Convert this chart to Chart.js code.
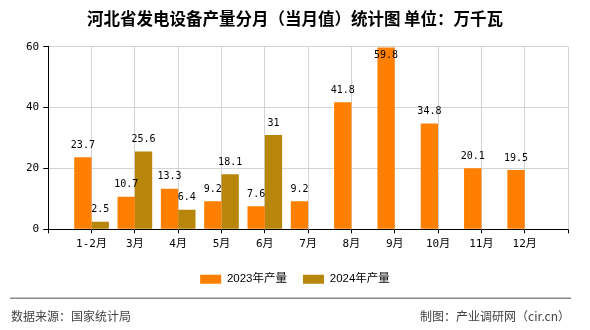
<!DOCTYPE html>
<html>
<head>
<meta charset="utf-8">
<script src="https://cdn.jsdelivr.net/npm/chart.js@4/dist/chart.umd.min.js"></script>
<style>
html,body{margin:0;padding:0;background:#fff;}
#wrap{width:590px;height:330px;position:relative;}
</style>
</head>
<body>
<div id="wrap"><canvas id="c" width="590" height="330"></canvas></div>
<script>
const titleText = '河北省发电设备产量分月（当月值）统计图 单位：万千瓦';
const categories = ['1-2月','3月','4月','5月','6月','7月','8月','9月','10月','11月','12月'];
const series2023 = [23.7, 10.7, 13.3, 9.2, 7.6, 9.2, 41.8, 59.8, 34.8, 20.1, 19.5];
const series2024 = [2.5, 25.6, 6.4, 18.1, 31, null, null, null, null, null, null];
const seriesNames = ['2023年产量', '2024年产量'];
const yTicks = [0, 20, 40, 60];
const sourceText = '数据来源：国家统计局';
const creditText = '制图：产业调研网（cir.cn）';

const labels = [''].concat(categories, ['']);
const pad = arr => [null].concat(arr, [null]);

const monoFont = "'DejaVu Sans Mono', 'Noto Sans CJK SC', monospace";

const vGrid = {
  id: 'vGrid',
  beforeDatasetsDraw(chart) {
    const ctx = chart.ctx;
    const area = chart.chartArea;
    const xs = chart.scales.x;
    ctx.save();
    ctx.strokeStyle = '#d3d3d3';
    ctx.lineWidth = 1;
    ctx.beginPath();
    for (let i = 1; i < xs.ticks.length; i++) {
      const x = Math.round(xs.getPixelForTick(i) - 0.5) + 0.5;
      ctx.moveTo(x, area.top);
      ctx.lineTo(x, area.bottom);
    }
    ctx.stroke();
    ctx.restore();
  }
};

const valueLabels = {
  id: 'valueLabels',
  afterDatasetsDraw(chart) {
    const ctx = chart.ctx;
    const area = chart.chartArea;
    ctx.save();
    ctx.font = "10px " + monoFont;
    ctx.fillStyle = '#000';
    ctx.textAlign = 'center';
    ctx.textBaseline = 'middle';
    chart.data.datasets.forEach((ds, i) => {
      const meta = chart.getDatasetMeta(i);
      meta.data.forEach((el, j) => {
        const v = ds.data[j];
        if (v === null || v === undefined) return;
        let y = el.y - 12;
        if (y < area.top + 9) y = area.top + 9;
        ctx.fillText(String(v), el.x, y);
      });
    });
    ctx.restore();
  }
};

const footer = {
  id: 'footer',
  afterDraw(chart) {
    const ctx = chart.ctx;
    ctx.save();
    ctx.fillStyle = '#8a8a8a';
    ctx.fillRect(10, 297.5, 561, 1.5);
    ctx.font = "12px 'Noto Sans CJK SC', sans-serif";
    ctx.fillStyle = '#444';
    ctx.textBaseline = 'middle';
    ctx.textAlign = 'left';
    ctx.fillText(sourceText, 11, 316.5);
    ctx.textAlign = 'right';
    ctx.fillText(creditText, 570, 316.5);
    ctx.restore();
  }
};

new Chart(document.getElementById('c'), {
  type: 'bar',
  data: {
    labels: labels,
    datasets: [
      { label: seriesNames[0], data: pad(series2023), backgroundColor: '#FF8000', borderWidth: 0 },
      { label: seriesNames[1], data: pad(series2024), backgroundColor: '#B8860B', borderWidth: 0 }
    ]
  },
  options: {
    responsive: false,
    animation: false,
    devicePixelRatio: 1,
    layout: { padding: { left: 22, right: 22, top: 0, bottom: 35 } },
    datasets: { bar: { categoryPercentage: 0.8, barPercentage: 1.0 } },
    scales: {
      x: {
        offset: false,
        afterFit(scale) { scale.height += 3; },
        grid: { display: true, drawOnChartArea: true, color: '#d3d3d3', lineWidth: 1, tickColor: '#000', tickLength: 4, offset: false },
        border: { display: true, color: '#000', width: 1 },
        ticks: { color: '#000', font: { family: monoFont, size: 11 }, padding: 4, maxRotation: 0, autoSkip: false }
      },
      y: {
        min: 0, max: 60,
        afterBuildTicks(scale) { scale.ticks = yTicks.map(v => ({ value: v })); },
        grid: { color: '#d3d3d3', tickColor: '#000', tickLength: 5 },
        border: { display: true, color: '#000', width: 1 },
        ticks: { color: '#000', font: { family: monoFont, size: 11 }, padding: 4 }
      }
    },
    plugins: {
      title: {
        display: true, text: titleText, color: '#000',
        font: { family: "'Noto Sans CJK SC', sans-serif", size: 16.5, weight: 'bold' },
        padding: { top: 9, bottom: 18 }
      },
      legend: {
        position: 'bottom',
        labels: {
          boxWidth: 21, boxHeight: 9, padding: 16, color: '#000',
          font: { family: "'Liberation Sans', 'Noto Sans CJK SC', sans-serif", size: 11.5 }
        }
      },
      tooltip: { enabled: false }
    }
  },
  plugins: [vGrid, valueLabels, footer]
});
</script>
</body>
</html>
